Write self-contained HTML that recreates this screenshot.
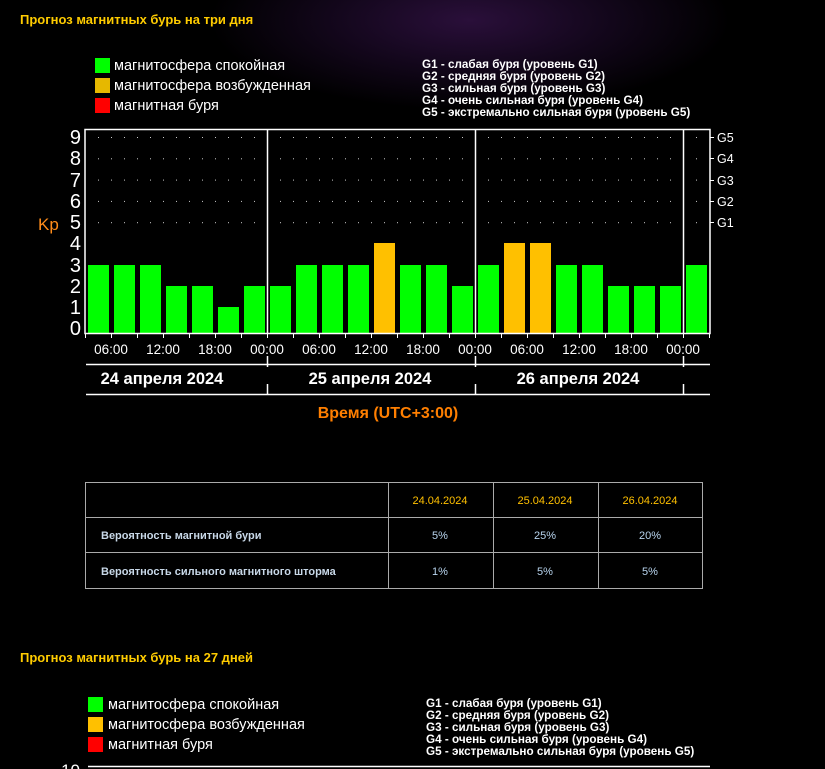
<!DOCTYPE html>
<html><head><meta charset="utf-8"><style>
html,body{margin:0;padding:0;background:#000;}
body{width:825px;height:769px;overflow:hidden;position:relative;
background:radial-gradient(ellipse 260px 90px at 470px 20px,#2a0f3a 0%,#14071d 50%,#000 100%);}
svg{position:absolute;left:0;top:0}
text{font-family:"Liberation Sans","DejaVu Sans",sans-serif}
</style></head><body>
<svg width="825" height="769" viewBox="0 0 825 769">
<defs>
<pattern id="dots" x="98" y="137" width="13" height="21.3" patternUnits="userSpaceOnUse">
<rect x="0" y="0" width="1" height="1" fill="#ccc"/></pattern>
</defs>
<text x="20" y="24" font-size="13" font-weight="bold" fill="#ffcc00">Прогноз магнитных бурь на три дня</text>
<rect x="95" y="58" width="15" height="15" fill="#00ff00"/>
<rect x="95" y="78" width="15" height="15" fill="#e6b800"/>
<rect x="95" y="98" width="15" height="15" fill="#ff0000"/>
<g font-size="14.5" fill="#fff">
<text x="114" y="70">магнитосфера спокойная</text>
<text x="114" y="90">магнитосфера возбужденная</text>
<text x="114" y="110">магнитная буря</text>
</g>
<g font-size="11.7" font-weight="bold" fill="#fff">
<text x="422" y="68">G1 - слабая буря (уровень G1)</text>
<text x="422" y="80">G2 - средняя буря (уровень G2)</text>
<text x="422" y="92">G3 - сильная буря (уровень G3)</text>
<text x="422" y="104">G4 - очень сильная буря (уровень G4)</text>
<text x="422" y="116">G5 - экстремально сильная буря (уровень G5)</text>
</g>
<rect x="88" y="137" width="620" height="90" fill="url(#dots)"/>
<g fill="#00ff00">
<rect x="88" y="265" width="21" height="68"/>
<rect x="114" y="265" width="21" height="68"/>
<rect x="140" y="265" width="21" height="68"/>
<rect x="166" y="286" width="21" height="47"/>
<rect x="192" y="286" width="21" height="47"/>
<rect x="218" y="307" width="21" height="26"/>
<rect x="244" y="286" width="21" height="47"/>
<rect x="270" y="286" width="21" height="47"/>
<rect x="296" y="265" width="21" height="68"/>
<rect x="322" y="265" width="21" height="68"/>
<rect x="348" y="265" width="21" height="68"/>
<rect x="374" y="243" width="21" height="90" fill="#ffc000"/>
<rect x="400" y="265" width="21" height="68"/>
<rect x="426" y="265" width="21" height="68"/>
<rect x="452" y="286" width="21" height="47"/>
<rect x="478" y="265" width="21" height="68"/>
<rect x="504" y="243" width="21" height="90" fill="#ffc000"/>
<rect x="530" y="243" width="21" height="90" fill="#ffc000"/>
<rect x="556" y="265" width="21" height="68"/>
<rect x="582" y="265" width="21" height="68"/>
<rect x="608" y="286" width="21" height="47"/>
<rect x="634" y="286" width="21" height="47"/>
<rect x="660" y="286" width="21" height="47"/>
<rect x="686" y="265" width="21" height="68"/>
</g>
<g stroke="#fff" stroke-width="1.5" fill="none">
<rect x="85" y="129.5" width="625" height="204"/>
<line x1="267.5" y1="129" x2="267.5" y2="334"/>
<line x1="475.5" y1="129" x2="475.5" y2="334"/>
<line x1="683.5" y1="129" x2="683.5" y2="334"/>
<line x1="86" y1="364.5" x2="710" y2="364.5"/>
<line x1="86" y1="394.5" x2="710" y2="394.5"/>
<line x1="267.5" y1="356" x2="267.5" y2="367"/>
<line x1="475.5" y1="356" x2="475.5" y2="367"/>
<line x1="683.5" y1="356" x2="683.5" y2="367"/>
<line x1="267.5" y1="384" x2="267.5" y2="394"/>
<line x1="475.5" y1="384" x2="475.5" y2="394"/>
<line x1="683.5" y1="384" x2="683.5" y2="394"/>
</g>
<g stroke="#fff" stroke-width="1">
<path d="M85.5 334v4M111.5 334v4M137.5 334v4M163.5 334v4M189.5 334v4M215.5 334v4M241.5 334v4M267.5 334v4M293.5 334v4M319.5 334v4M345.5 334v4M371.5 334v4M397.5 334v4M423.5 334v4M449.5 334v4M475.5 334v4M501.5 334v4M527.5 334v4M553.5 334v4M579.5 334v4M605.5 334v4M631.5 334v4M657.5 334v4M683.5 334v4M709.5 334v4"/>
<path d="M710 137.5h4M710 158.5h4M710 180.5h4M710 201.5h4M710 222.5h4"/>
</g>
<g font-size="20" fill="#fff" text-anchor="end">
<text x="81" y="144">9</text><text x="81" y="165">8</text><text x="81" y="187">7</text>
<text x="81" y="208">6</text><text x="81" y="229">5</text><text x="81" y="250">4</text>
<text x="81" y="272">3</text><text x="81" y="293">2</text><text x="81" y="314">1</text>
<text x="81" y="335">0</text>
</g>
<text x="38" y="230" font-size="17" fill="#ff8c1a">Kp</text>
<g font-size="12.5" fill="#fff">
<text x="717" y="142">G5</text><text x="717" y="163">G4</text><text x="717" y="185">G3</text>
<text x="717" y="206">G2</text><text x="717" y="227">G1</text>
</g>
<g font-family="Liberation Mono" font-size="13.5" fill="#fff" text-anchor="middle">
<text x="111" y="354">06:00</text><text x="163" y="354">12:00</text><text x="215" y="354">18:00</text><text x="267" y="354">00:00</text>
<text x="319" y="354">06:00</text><text x="371" y="354">12:00</text><text x="423" y="354">18:00</text><text x="475" y="354">00:00</text>
<text x="527" y="354">06:00</text><text x="579" y="354">12:00</text><text x="631" y="354">18:00</text><text x="683" y="354">00:00</text>
</g>
<g font-size="16.5" font-weight="bold" fill="#fff" text-anchor="middle">
<text x="162" y="384">24 апреля 2024</text>
<text x="370" y="384">25 апреля 2024</text>
<text x="578" y="384">26 апреля 2024</text>
</g>
<text x="388" y="418" font-size="16" font-weight="bold" fill="#ff7f00" text-anchor="middle">Время (UTC+3:00)</text>
<g stroke="#aaa" stroke-width="1" fill="none">
<rect x="85.5" y="482.5" width="617" height="106"/>
<line x1="85" y1="517.5" x2="703" y2="517.5"/>
<line x1="85" y1="552.5" x2="703" y2="552.5"/>
<line x1="388.5" y1="482" x2="388.5" y2="589"/>
<line x1="493.5" y1="482" x2="493.5" y2="589"/>
<line x1="598.5" y1="482" x2="598.5" y2="589"/>
</g>
<g font-size="11" text-anchor="middle">
<g fill="#ffc000"><text x="440" y="504">24.04.2024</text><text x="545" y="504">25.04.2024</text><text x="650" y="504">26.04.2024</text></g>
<g fill="#b8d4ee"><text x="440" y="539">5%</text><text x="545" y="539">25%</text><text x="650" y="539">20%</text>
<text x="440" y="575">1%</text><text x="545" y="575">5%</text><text x="650" y="575">5%</text></g>
</g>
<g font-size="11" font-weight="bold" fill="#c8d8e8">
<text x="101" y="539">Вероятность магнитной бури</text>
<text x="101" y="575">Вероятность сильного магнитного шторма</text>
</g>
<text x="20" y="662" font-size="13" font-weight="bold" fill="#ffcc00">Прогноз магнитных бурь на 27 дней</text>
<rect x="88" y="697" width="15" height="15" fill="#00ff00"/>
<rect x="88" y="717" width="15" height="15" fill="#ffc000"/>
<rect x="88" y="737" width="15" height="15" fill="#ff0000"/>
<g font-size="14.5" fill="#fff">
<text x="108" y="709">магнитосфера спокойная</text>
<text x="108" y="729">магнитосфера возбужденная</text>
<text x="108" y="749">магнитная буря</text>
</g>
<g font-size="11.7" font-weight="bold" fill="#fff">
<text x="426" y="707">G1 - слабая буря (уровень G1)</text>
<text x="426" y="719">G2 - средняя буря (уровень G2)</text>
<text x="426" y="731">G3 - сильная буря (уровень G3)</text>
<text x="426" y="743">G4 - очень сильная буря (уровень G4)</text>
<text x="426" y="755">G5 - экстремально сильная буря (уровень G5)</text>
</g>
<line x1="88" y1="766.5" x2="710" y2="766.5" stroke="#fff" stroke-width="1.5"/>
<text x="80" y="776" font-size="17" fill="#fff" text-anchor="end">10</text>
</svg>
</body></html>
